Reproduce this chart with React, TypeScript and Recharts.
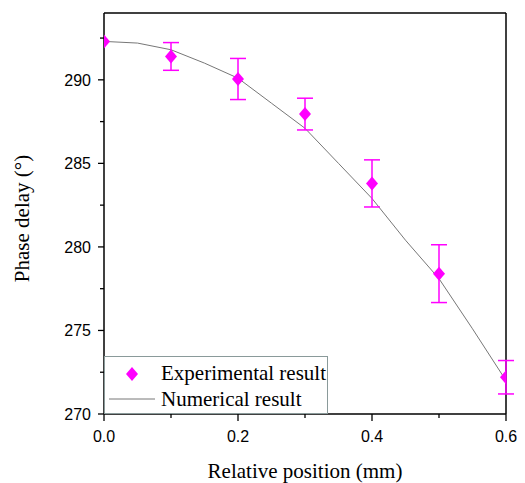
import {
  ComposedChart,
  Line,
  Scatter,
  ErrorBar,
  XAxis,
  YAxis,
  Legend,
  ReferenceLine,
} from "recharts";

const positions = [0, 0.1, 0.2, 0.3, 0.4, 0.5, 0.6];
const phaseMeasured = [292.3, 291.4, 290.05, 287.95, 283.8, 278.4, 272.2];
const phaseError = [0, 0.83, 1.23, 0.95, 1.41, 1.73, 1.0];

const simPositions = [0, 0.05, 0.1, 0.15, 0.2, 0.25, 0.3, 0.35, 0.4, 0.45, 0.5, 0.55, 0.6];
const phaseSimulated = [292.3, 292.2, 291.8, 291.0, 290.1, 288.6, 287.1, 285.0, 282.9, 280.4, 278.1, 275.1, 272.0];

const xTicks = [0, 0.1, 0.2, 0.3, 0.4, 0.5, 0.6];
const xMajor = [0, 0.2, 0.4, 0.6];
const yTicks = [270, 272.5, 275, 277.5, 280, 282.5, 285, 287.5, 290, 292.5];
const yMajor = [270, 275, 280, 285, 290];

const expData = positions.map((x, i) => ({ x, y: phaseMeasured[i], err: phaseError[i] }));
const simData = simPositions.map((x, i) => ({ x, y: phaseSimulated[i] }));

const MAGENTA = "#FF00FF";
const sans = "'Liberation Sans', Arial, sans-serif";
const serif = "'Liberation Serif', 'Times New Roman', serif";

const isMajor = (list: number[], v: number) => list.some((m) => Math.abs(m - v) < 1e-6);

function YTick({ x, y, payload }: any) {
  const major = isMajor(yMajor, payload.value);
  const axisX = x + 10;
  const len = major ? 6 : 4;
  return (
    <g>
      <line x1={axisX - len} x2={axisX} y1={y} y2={y} stroke="#000" strokeWidth={1.3} />
      {major && (
        <text x={axisX - 13} y={y} dy={6} textAnchor="end" fontFamily={sans} fontSize={16} fill="#000">
          {payload.value}
        </text>
      )}
    </g>
  );
}

function XTick({ x, y, payload }: any) {
  const major = isMajor(xMajor, payload.value);
  const axisY = y - 10;
  const len = major ? 7 : 4;
  return (
    <g>
      <line x1={x} x2={x} y1={axisY} y2={axisY + len} stroke="#000" strokeWidth={1.3} />
      {major && (
        <text x={x} y={axisY + 16} dy={12} textAnchor="middle" fontFamily={sans} fontSize={16} fill="#000">
          {payload.value.toFixed(1)}
        </text>
      )}
    </g>
  );
}

function Diamond({ cx, cy }: any) {
  return (
    <polygon
      points={`${cx},${cy - 7} ${cx + 6},${cy} ${cx},${cy + 7} ${cx - 6},${cy}`}
      fill={MAGENTA}
    />
  );
}

function LegendBox() {
  return (
    <div
      style={{
        width: 224,
        height: 58,
        border: "1px solid #8a9a9a",
        background: "#fff",
        boxSizing: "border-box",
        fontFamily: serif,
        fontSize: 21,
        color: "#000",
        lineHeight: 1,
      }}
    >
      <div style={{ display: "flex", alignItems: "center", height: 27, marginTop: 3 }}>
        <svg width={56} height={20}>
          <polygon points="27,3 33,10 27,17 21,10" fill={MAGENTA} />
        </svg>
        <span>Experimental result</span>
      </div>
      <div style={{ display: "flex", alignItems: "center", height: 24 }}>
        <svg width={56} height={20}>
          <line x1={4} x2={50} y1={10} y2={10} stroke="#777" strokeWidth={1} />
        </svg>
        <span>Numerical result</span>
      </div>
    </div>
  );
}

export default function App() {
  return (
    <div style={{ position: "absolute", left: 0, top: 0, background: "#fff" }}>
      <ComposedChart
        width={525}
        height={483}
        margin={{ top: 13, right: 19, left: 0, bottom: 0 }}
      >
        <XAxis
          dataKey="x"
          type="number"
          domain={[0, 0.6]}
          ticks={xTicks}
          tick={<XTick />}
          tickLine={false}
          tickSize={6}
          tickMargin={4}
          height={69}
          axisLine={{ stroke: "#000", strokeWidth: 1.5 }}
          allowDataOverflow
          label={{
            value: "Relative position (mm)",
            position: "insideBottom",
            offset: 5,
            style: { fontFamily: serif, fontSize: 21, fill: "#000" },
          }}
        />
        <YAxis
          dataKey="y"
          type="number"
          domain={[270, 294]}
          ticks={yTicks}
          tick={<YTick />}
          tickLine={false}
          tickSize={6}
          tickMargin={4}
          width={104}
          axisLine={{ stroke: "#000", strokeWidth: 1.5 }}
          allowDataOverflow
          label={{
            value: "Phase delay (°)",
            angle: -90,
            position: "insideLeft",
            offset: 22,
            dy: 5,
            style: { fontFamily: serif, fontSize: 21, fill: "#000", textAnchor: "middle" },
          }}
        />
        <ReferenceLine y={294} stroke="#000" strokeWidth={1.5} />
        <ReferenceLine x={0.6} stroke="#000" strokeWidth={1.5} />
        <Line
          data={simData}
          dataKey="y"
          type="linear"
          stroke="#777"
          strokeWidth={1}
          dot={false}
          activeDot={false}
          isAnimationActive={false}
        />
        <Scatter data={expData} dataKey="y" fill={MAGENTA} shape={<Diamond />} isAnimationActive={false}>
          <ErrorBar dataKey="err" direction="y" width={8} stroke={MAGENTA} strokeWidth={1.5} isAnimationActive={false} />
        </Scatter>
        <Legend
          layout="vertical"
          align="center"
          verticalAlign="middle"
          content={<LegendBox />}
          wrapperStyle={{ left: 104, top: 356, width: 224, height: 58 }}
        />
      </ComposedChart>
    </div>
  );
}
